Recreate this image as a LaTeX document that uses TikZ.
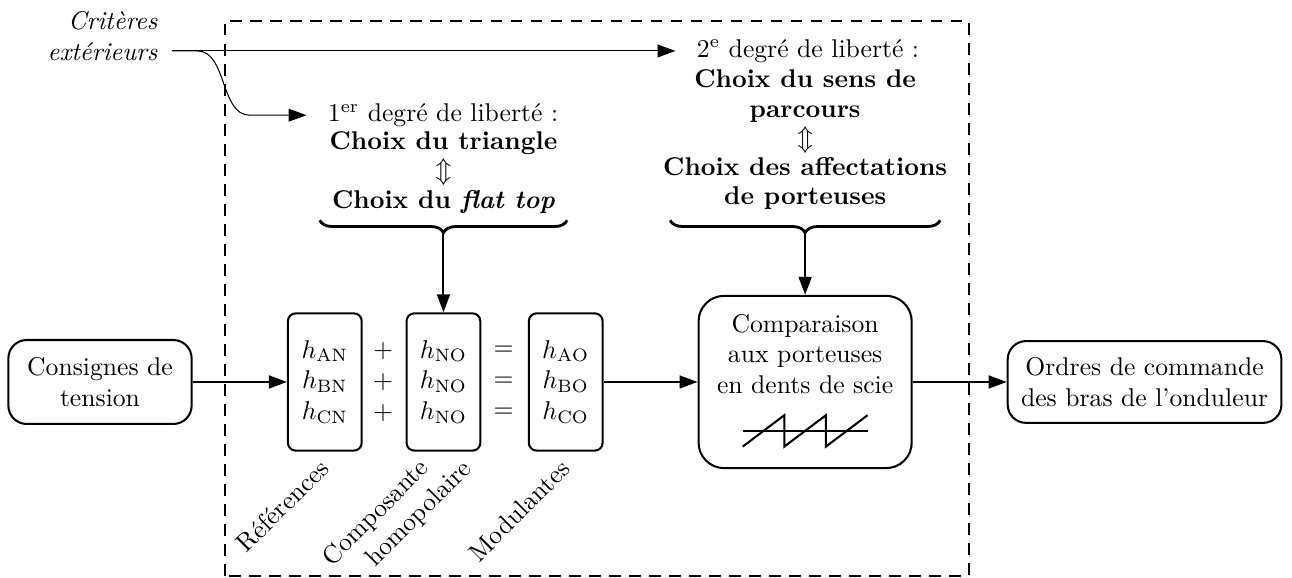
\documentclass[tikz,border=0pt]{standalone}
\usepackage{amsmath,amssymb}
\usepackage{fontspec}
\usetikzlibrary{arrows.meta,decorations.pathreplacing,calc}

\begin{document}
\begin{tikzpicture}[every node/.style={font=\normalsize},
  bloc/.style={draw, thick, rounded corners=0.25cm, align=center},
  signal/.style={draw, thick, rounded corners=3pt, align=center, minimum width=1.01cm, minimum height=1.88cm},
  fleche/.style={thick, -{Triangle[length=7pt,width=5pt]}},
  choix/.style={align=center, font=\fontsize{10}{11.4}\selectfont},
  legende/.style={rotate=45, anchor=east},
  accolade/.style={decorate, decoration={brace, mirror, amplitude=0.17cm}, line width=1.1pt}]
  \useasboundingbox (0,0) rectangle (17.70,7.918);
  % Cadre de la commande
  \draw[thick, dash pattern=on 4.5pt off 3.3pt] (3.08,0.03) rectangle (13.27,7.63);
  % Entree et sortie
  \node[bloc, minimum width=2.51cm, minimum height=1.15cm] (consignes) at (1.37,2.685) {Consignes de\\tension};
  \node[bloc, minimum width=3.75cm, minimum height=1.12cm] (ordres) at (15.68,2.685) {Ordres de commande\\des bras de l'onduleur};
  % Signaux
  \node[signal] (ref) at (4.45,2.685) {$h_{\mathrm{AN}}$\\$h_{\mathrm{BN}}$\\$h_{\mathrm{CN}}$};
  \node[align=center] (plus) at (5.25,2.685) {$+$\\$+$\\$+$};
  \node[signal] (homo) at (6.075,2.685) {$h_{\mathrm{NO}}$\\$h_{\mathrm{NO}}$\\$h_{\mathrm{NO}}$};
  \node[align=center] (egal) at (6.90,2.685) {$=$\\$=$\\$=$};
  \node[signal] (mod) at (7.75,2.685) {$h_{\mathrm{AO}}$\\$h_{\mathrm{BO}}$\\$h_{\mathrm{CO}}$};
  % Legendes
  \node[legende] (lref) at ([xshift=0.08cm,yshift=-0.08cm]ref.south) {Références};
  \node[legende] (lcomp) at ([xshift=-0.16cm,yshift=-0.09cm]homo.south) {Composante};
  \node[legende] (lhomo) at ([xshift=0.43cm,yshift=-0.11cm]homo.south) {homopolaire};
  \node[legende] (lmod) at ([xshift=0.08cm,yshift=-0.09cm]mod.south) {Modulantes};
  % Comparaison
  \node[bloc, rounded corners=0.35cm, minimum width=2.92cm, minimum height=2.36cm] (comp) at (11.03,2.685) {};
  \node[align=center] (comptexte) at ([yshift=0.385cm]comp.center) {Comparaison\\aux porteuses\\en dents de scie};
  % Porteuse en dents de scie
  \draw[thick] ($(comp.center)+(-0.855,-0.67)$) -- ++(1.71,0);
  \draw[thick] ($(comp.center)+(-0.855,-0.885)$) \foreach \i in {1,2} {-- ++(0.57,0.43) -- ++(0,-0.43)} -- ++(0.57,0.43);
  % Degres de liberte
  \node (titre1) at (6.07,6.34) {1\textsuperscript{er} degré de liberté :};
  \node[choix] (choix1) at (6.075,5.555) {\textbf{Choix du triangle}\\$\Updownarrow$\\\textbf{Choix du \textit{flat top}}};
  \node (titre2) at (11.07,7.22) {2\textsuperscript{e} degré de liberté :};
  \node[choix] (choix2) at (11.03,6.0) {\textbf{Choix du sens de}\\\textbf{parcours}\\$\Updownarrow$\\\textbf{Choix des affectations}\\\textbf{de porteuses}};
  % Accolades
  \draw[accolade] (4.38,4.90) -- (7.77,4.90);
  \draw[accolade] (9.18,4.90) -- (12.88,4.90);
  \coordinate (pointe1) at (6.075,4.71);
  \coordinate (pointe2) at (11.03,4.71);
  % Criteres exterieurs
  \node[align=right, font=\itshape, anchor=east] (criteres) at (2.28,7.425) {Critères\\extérieurs};
  \coordinate (crit) at (2.356,7.22);
  \draw[fleche, thin, shorten >=0.17cm] (crit) -- (titre2.west);
  \draw[fleche, thin, shorten >=0.17cm] (crit) -- ++(0.35,0) .. controls +(0.4,0) and +(-0.4,0) .. ($(titre1.west)+(-0.95,0)$) -- (titre1.west);
  % Liaisons
  \draw[fleche] (consignes) -- (ref);
  \draw[fleche] (mod) -- (comp);
  \draw[fleche] (comp) -- (ordres);
  \draw[fleche] (pointe1) -- (homo);
  \draw[fleche] (pointe2) -- (comp);
\end{tikzpicture}
\end{document}
